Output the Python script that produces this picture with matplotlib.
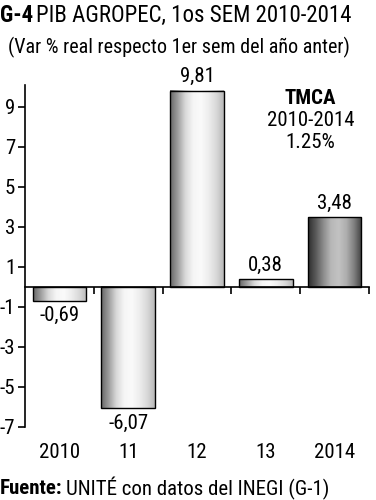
import matplotlib
matplotlib.use("Agg")
import matplotlib.pyplot as plt
import numpy as np
from matplotlib import font_manager

entries = font_manager.fontManager.ttflist
names = {f.name for f in entries}
family = None
stretch = 'normal'
for cand in ['Liberation Sans Narrow', 'Roboto Condensed', 'Open Sans Condensed', 'DejaVu Sans Condensed']:
    if cand in names:
        family = cand
        break
if family is None:
    cond2 = [f for f in entries if 'Condensed' in f.fname or 'Narrow' in f.fname]
    if cond2:
        family = cond2[0].name
        stretch = 'condensed'
    else:
        family = 'Liberation Sans'
is_narrow = family != 'Liberation Sans'
plt.rcParams['font.family'] = [family, 'DejaVu Sans']
plt.rcParams['font.stretch'] = stretch

categories = ['2010', '11', '12', '13', '2014']
values = [-0.69, -6.07, 9.81, 0.38, 3.48]
value_labels = ['-0,69', '-6,07', '9,81', '0,38', '3,48']
yticks = [9, 7, 5, 3, 1, -1, -3, -5, -7]

fig = plt.figure(figsize=(3.76, 5.0), dpi=100)
ax = fig.add_axes([25/376, 1-427/500, (369-25)/376, (427-85)/500])

width = 0.78
light = np.array([0.40, 0.62, 0.85, 0.96, 0.98, 0.93, 0.85, 0.72])
dark = np.array([0.18, 0.35, 0.55, 0.72, 0.76, 0.68, 0.50, 0.25])
fs = 15 if is_narrow else 11
for i, v in enumerate(values):
    prof = dark if i == len(values) - 1 else light
    xs = np.linspace(0, 1, 200)
    g = np.interp(xs, np.linspace(0, 1, len(prof)), prof)[None, :]
    y0, y1 = (0, v) if v >= 0 else (v, 0)
    ax.imshow(g, cmap='gray', vmin=0, vmax=1, aspect='auto',
              extent=(i - width/2, i + width/2, y0, y1), zorder=2, interpolation='bilinear')
    ax.bar(i, v, width=width, facecolor='none', edgecolor='black', linewidth=1.0, zorder=3)
    if v >= 0:
        ax.text(i, v + 0.25, value_labels[i], ha='center', va='bottom', fontsize=fs)
    else:
        ax.text(i, v - 0.25, value_labels[i], ha='center', va='top', fontsize=fs)

ax.set_xlim(-0.5, 4.5)
ax.set_ylim(-7, 10.1)

for s in ['top', 'right']:
    ax.spines[s].set_visible(False)
ax.spines['bottom'].set_position(('data', 0))
ax.spines['left'].set_linewidth(1.2)
ax.spines['bottom'].set_linewidth(1.2)
ax.spines['bottom'].set_zorder(4)
ax.set_yticks(yticks)
ax.set_yticklabels([str(t) for t in yticks], fontsize=fs)
ax.set_xticks([0.5, 1.5, 2.5, 3.5, 4.5])
ax.set_xticklabels([])
ax.tick_params(axis='y', direction='out', length=5, width=1.2, pad=2)
ax.tick_params(axis='x', direction='out', length=5, width=1.2)
for i, c in enumerate(categories):
    ax.text(i, -8.3, c, ha='center', va='center', fontsize=fs)

ax.text(3.65, 9.4, 'TMCA', ha='center', va='center', fontsize=fs, fontweight='bold')
ax.text(3.65, 8.3, '2010-2014', ha='center', va='center', fontsize=fs)
ax.text(3.65, 7.2, '1.25%', ha='center', va='center', fontsize=fs)

tfs = 16.5 if is_narrow else 15
t1 = fig.text(0.0, 1-15/500, 'G-4', ha='left', va='center', fontsize=tfs, fontweight='bold')
fig.canvas.draw()
bb = t1.get_window_extent()
fig.text(bb.x1/376 + 0.008, 1-15/500, 'PIB AGROPEC, 1os SEM 2010-2014', ha='left', va='center', fontsize=tfs)
fig.text(8/376, 1-47/500, '(Var % real respecto 1er sem del año anter)', ha='left', va='center',
         fontsize=14.5 if is_narrow else 12)
ffs = 15 if is_narrow else 12
t2 = fig.text(0.0, 1-488/500, 'Fuente:', ha='left', va='center', fontsize=ffs, fontweight='bold')
fig.canvas.draw()
bb2 = t2.get_window_extent()
fig.text(bb2.x1/376 + 0.01, 1-488/500, 'UNITÉ con datos del INEGI (G-1)', ha='left', va='center', fontsize=ffs)

fig.savefig('out.png', dpi=100)
